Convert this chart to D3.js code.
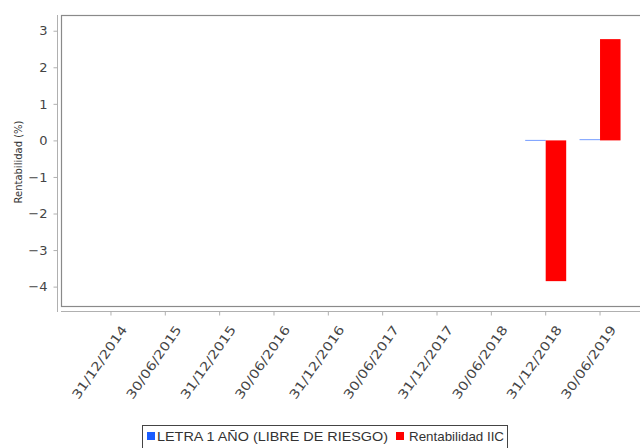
<!DOCTYPE html>
<html>
<head>
<meta charset="utf-8">
<script src="https://cdn.jsdelivr.net/npm/d3@7"></script>
<style>
  html, body { margin: 0; padding: 0; background: #fff; }
  svg { display: block; }
</style>
</head>
<body>
<svg id="chart" width="640" height="448"></svg>
<script>
// Reporting dates (category axis)
const categories = [
  "31/12/2014", "30/06/2015", "31/12/2015", "30/06/2016", "31/12/2016",
  "30/06/2017", "31/12/2017", "30/06/2018", "31/12/2018", "30/06/2019"
];
// Series names and per-date returns (%)
const seriesNames = ["LETRA 1 AÑO (LIBRE DE RIESGO)", "Rentabilidad IIC"];
const letraValues = [null, null, null, null, null, null, null, null, -0.02, 0.02];
const iicValues   = [null, null, null, null, null, null, null, null, -3.85, 2.77];
const seriesColors = ["#1a5cff", "#ff0000"];
// Value axis ticks
const yTicks = [3, 2, 1, 0, -1, -2, -3, -4];
const yDomain = [-4.53, 3.43];

const svg = d3.select("#chart");
const plot = { left: 61, right: 660, top: 15, bottom: 306 };

const y = d3.scaleLinear().domain(yDomain).range([plot.bottom, plot.top]);
const x = d3.scaleBand().domain(categories).range([83.8, 627.2]).padding(0);
const x1 = d3.scaleBand().domain(seriesNames).range([0, x.bandwidth()]).paddingOuter(0.325);

// plot frame
svg.append("rect")
  .attr("x", plot.left + 0.5).attr("y", plot.top + 0.5)
  .attr("width", plot.right - plot.left).attr("height", plot.bottom - plot.top)
  .attr("fill", "#fff").attr("stroke", "#8a8a8a").attr("stroke-width", 1.2);

// bars
const rows = categories.map((c, i) => ({ cat: c, vals: [letraValues[i], iicValues[i]] }));
const g = svg.append("g");
rows.forEach(r => {
  r.vals.forEach((v, s) => {
    if (v === null) return;
    const y0 = y(0), y1 = y(v);
    const h = Math.abs(y1 - y0);
    g.append("rect")
      .attr("x", x(r.cat) + x1(seriesNames[s]))
      .attr("y", Math.min(y0, y1) - (h < 1 ? 0.5 : 0))
      .attr("width", x1.bandwidth())
      .attr("height", Math.max(1, h))
      .attr("fill", seriesColors[s])
      .attr("fill-opacity", h < 1 ? 0.6 : 1);
  });
});

// value axis
const yAxis = d3.axisLeft(y).tickValues(yTicks).tickSize(4).tickPadding(6).tickFormat(d3.format("d"));
const ya = svg.append("g").attr("transform", "translate(57.5,0)").call(yAxis);
ya.select(".domain").attr("stroke", "#b0b0b0").attr("d", `M-0,${plot.top}V${plot.bottom + 6}`);
ya.selectAll(".tick line").attr("stroke", "#b0b0b0");
ya.selectAll(".tick text")
  .attr("font-family", "DejaVu Sans").attr("font-size", 13).attr("fill", "#444");

svg.append("text")
  .attr("transform", "translate(22,162) rotate(-90)")
  .attr("text-anchor", "middle")
  .attr("font-family", "DejaVu Sans").attr("font-size", 10).attr("fill", "#333")
  .text("Rentabilidad (%)");

// category axis
const xAxis = d3.axisBottom(x).tickSize(4).tickPadding(3);
const xa = svg.append("g").attr("transform", "translate(0,311.5)").call(xAxis);
xa.select(".domain").attr("stroke", "#b0b0b0").attr("d", `M${plot.left},0H640`);
xa.selectAll(".tick line").attr("stroke", "#b0b0b0");
xa.selectAll(".tick text")
  .attr("font-family", "DejaVu Sans").attr("font-size", 12.5).attr("fill", "#444")
  .attr("text-anchor", "end").attr("dy", 0)
  .attr("transform", "translate(11,14) rotate(-55)")
  .attr("textLength", 86).attr("lengthAdjust", "spacingAndGlyphs");

// legend
const lg = svg.append("g");
lg.append("rect").attr("x", 142.5).attr("y", 425.5).attr("width", 365).attr("height", 30)
  .attr("fill", "#fff").attr("stroke", "#444");
const legendItems = [
  { name: seriesNames[0], color: seriesColors[0], sx: 147, tx: 157, len: 231 },
  { name: seriesNames[1], color: seriesColors[1], sx: 396, tx: 409, len: 95 }
];
legendItems.forEach(it => {
  lg.append("rect").attr("x", it.sx).attr("y", 432).attr("width", 8).attr("height", 8).attr("fill", it.color);
  lg.append("text").attr("x", it.tx).attr("y", 441)
    .attr("font-family", "Liberation Sans").attr("font-size", 13).attr("fill", "#333")
    .attr("textLength", it.len).attr("lengthAdjust", "spacingAndGlyphs")
    .text(it.name);
});
</script>
</body>
</html>
